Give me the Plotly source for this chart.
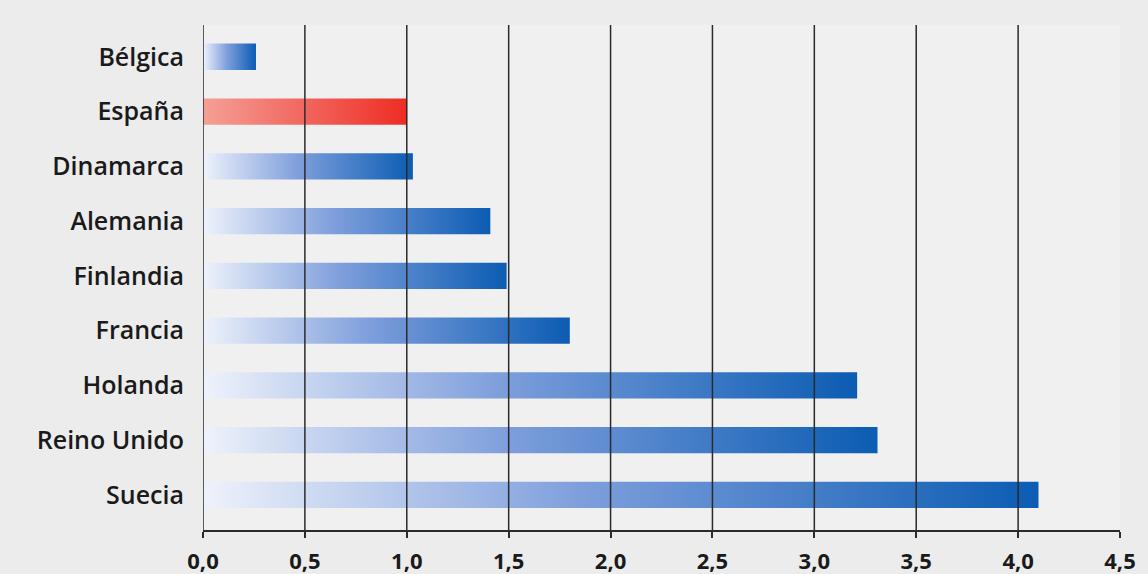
import plotly.graph_objects as go

categories = ["Bélgica", "España", "Dinamarca", "Alemania", "Finlandia",
              "Francia", "Holanda", "Reino Unido", "Suecia"]
values = [0.26, 1.00, 1.03, 1.41, 1.49, 1.80, 3.21, 3.31, 4.10]
tick_vals = [0.0, 0.5, 1.0, 1.5, 2.0, 2.5, 3.0, 3.5, 4.0, 4.5]
tick_text = ["0,0", "0,5", "1,0", "1,5", "2,0", "2,5", "3,0", "3,5", "4,0", "4,5"]
highlight = "España"

blue_scale = [[0, "#eef2fb"], [0.45, "#7f9fdc"], [1, "#0b5cb3"]]
red_scale = [[0, "#f5a096"], [1, "#ee2c24"]]
bar_half = 0.24

fig = go.Figure()
for i, (cat, v) in enumerate(zip(categories, values)):
    fig.add_trace(go.Scatter(
        x=[0, v, v, 0, 0],
        y=[i - bar_half, i - bar_half, i + bar_half, i + bar_half, i - bar_half],
        mode="lines", line=dict(width=0), fill="toself",
        fillgradient=dict(type="horizontal",
                          colorscale=red_scale if cat == highlight else blue_scale),
        name=cat, hoverinfo="text", text=f"{cat}: {v}", showlegend=False,
    ))

# vertical gridlines drawn above bars (as in the reference)
for t in tick_vals[:-1]:
    fig.add_shape(type="line", xref="x", yref="paper", x0=t, x1=t, y0=0, y1=1,
                  line=dict(color="#2a2a2a", width=1.5), layer="above")

font_family = "Open Sans"
fig.update_layout(
    width=1148, height=574,
    margin=dict(l=203, r=28, t=25, b=44),
    paper_bgcolor="#ececec", plot_bgcolor="#f0f0f0",
    showlegend=False,
)
fig.update_xaxes(
    range=[0, 4.5], tickvals=tick_vals, ticktext=tick_text, automargin=False,
    showgrid=False, zeroline=False, showline=True, linecolor="#2a2a2a", linewidth=1.5,
    ticks="outside", ticklen=6, tickcolor="#2a2a2a", tickwidth=1.5,
    ticklabelstandoff=5,
    tickfont=dict(family=font_family, size=22, color="#1a1a1a", weight=700),
)
fig.update_yaxes(
    range=[8.64, -0.58], tickvals=list(range(len(categories))), ticktext=categories,
    automargin=False,
    showgrid=False, zeroline=False, showline=False, ticks="",
    ticklabelstandoff=18,
    tickfont=dict(family=font_family, size=25, color="#1a1a1a", weight=600),
)
fig.write_html("out.html")
